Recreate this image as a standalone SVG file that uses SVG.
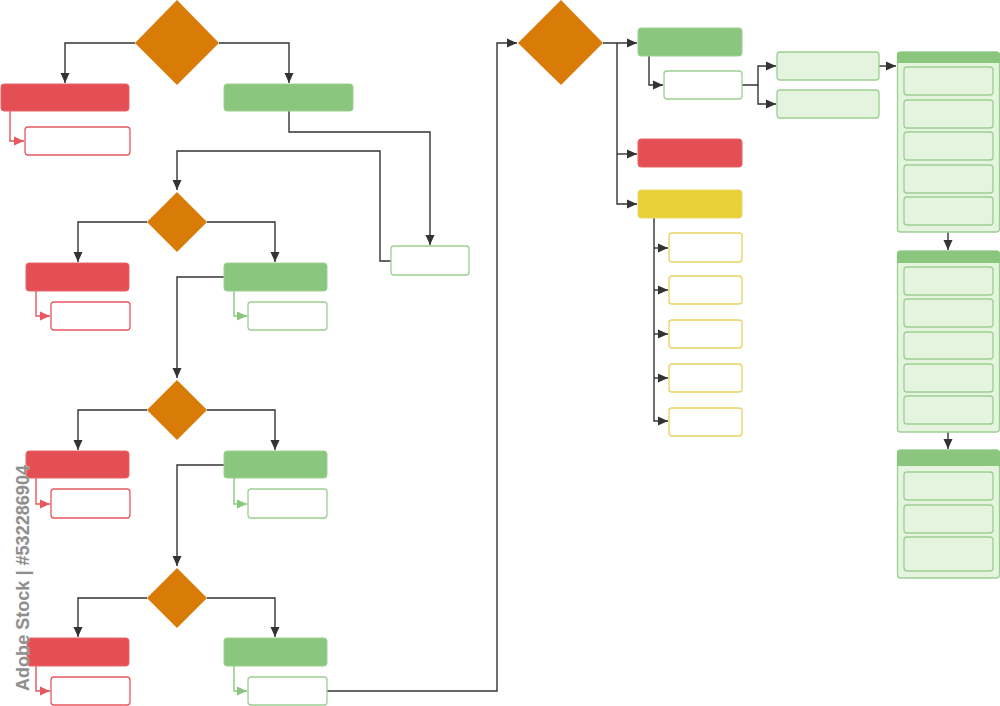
<svg xmlns="http://www.w3.org/2000/svg" width="1000" height="706" viewBox="0 0 1000 706">
<style>
.dia{fill:#d97b07}
.red{fill:#e34f55;stroke:#e8646a;stroke-width:1}
.grn{fill:#8bc67f;stroke:#9cd090;stroke-width:1}
.yel{fill:#e9cf38;stroke:#ecd56a;stroke-width:1}
.ored{fill:#fff;stroke:#e6585e;stroke-width:1.3}
.ogrn{fill:#fff;stroke:#9ccf91;stroke-width:1.3}
.oyel{fill:#fff;stroke:#ead260;stroke-width:1.3}
.lgrn{fill:#e4f4de;stroke:#9ccf91;stroke-width:1.3}
.phead{fill:#8bc67f}
.c{fill:none;stroke:#333;stroke-width:1.4}
.cr{fill:none;stroke:#e6585e;stroke-width:1.4}
.cg{fill:none;stroke:#8bc67f;stroke-width:1.4}
.wm{font-family:"Liberation Sans",Arial,sans-serif;font-size:18px;font-weight:bold;fill:#8f8f8f;stroke:#f2f2f2;stroke-width:0.6;paint-order:stroke}
</style>
<defs>
<marker id="ad" markerWidth="11" markerHeight="11" refX="10" refY="5.5" orient="auto" markerUnits="userSpaceOnUse"><path d="M0,1 L10,5.5 L0,10 Z" fill="#333"/></marker>
<marker id="ar" markerWidth="11" markerHeight="11" refX="10" refY="5.5" orient="auto" markerUnits="userSpaceOnUse"><path d="M0,1 L10,5.5 L0,10 Z" fill="#e6585e"/></marker>
<marker id="ag" markerWidth="11" markerHeight="11" refX="10" refY="5.5" orient="auto" markerUnits="userSpaceOnUse"><path d="M0,1 L10,5.5 L0,10 Z" fill="#8bc67f"/></marker>
</defs>

<g id="connectors">
<path class="c" d="M135,43 H65 V83" marker-end="url(#ad)"/>
<path class="c" d="M219,43 H289 V83" marker-end="url(#ad)"/>
<path class="cr" d="M10,111 V141 H24" marker-end="url(#ar)"/>
<path class="c" d="M289,111 V132 H430 V245" marker-end="url(#ad)"/>
<path class="c" d="M391,261 H380 V151 H177 V190" marker-end="url(#ad)"/>
<path class="c" d="M147,222 H78 V262" marker-end="url(#ad)"/>
<path class="c" d="M207,222 H275 V262" marker-end="url(#ad)"/>
<path class="cr" d="M36,291 V316 H50" marker-end="url(#ar)"/>
<path class="cg" d="M234,291 V316 H247" marker-end="url(#ag)"/>
<path class="c" d="M224,277 H177 V378" marker-end="url(#ad)"/>
<path class="c" d="M147,410 H78 V450" marker-end="url(#ad)"/>
<path class="c" d="M207,410 H275 V450" marker-end="url(#ad)"/>
<path class="cr" d="M36,478 V504 H50" marker-end="url(#ar)"/>
<path class="cg" d="M234,478 V504 H247" marker-end="url(#ag)"/>
<path class="c" d="M224,465 H177 V566" marker-end="url(#ad)"/>
<path class="c" d="M147,598 H78 V637" marker-end="url(#ad)"/>
<path class="c" d="M207,598 H275 V637" marker-end="url(#ad)"/>
<path class="cr" d="M36,666 V691 H50" marker-end="url(#ar)"/>
<path class="cg" d="M234,666 V691 H247" marker-end="url(#ag)"/>
<path class="c" d="M327,691 H497 V43 H517" marker-end="url(#ad)"/>
<path class="c" d="M603,43 H637" marker-end="url(#ad)"/>
<path class="c" d="M617,43 V204 H637" marker-end="url(#ad)"/>
<path class="c" d="M617,154 H637" marker-end="url(#ad)"/>
<path class="c" d="M649,56 V85 H663" marker-end="url(#ad)"/>
<path class="c" d="M742,85 H758 V66 H776" marker-end="url(#ad)"/>
<path class="c" d="M758,85 V104 H776" marker-end="url(#ad)"/>
<path class="c" d="M879,66 H896" marker-end="url(#ad)"/>
<path class="c" d="M654,218 V421 H668" marker-end="url(#ad)"/>
<path class="c" d="M654,248 H668" marker-end="url(#ad)"/>
<path class="c" d="M654,290 H668" marker-end="url(#ad)"/>
<path class="c" d="M654,334 H668" marker-end="url(#ad)"/>
<path class="c" d="M654,378 H668" marker-end="url(#ad)"/>
<path class="c" d="M948,232 V250" marker-end="url(#ad)"/>
<path class="c" d="M948,432 V449" marker-end="url(#ad)"/>
</g>

<g id="d1"><polygon class="dia" points="177,0 219,43 177,85 135,43"/></g>
<g id="r1"><rect class="red" x="1" y="84" width="128" height="27" rx="3"/></g>
<g id="r1o"><rect class="ored" x="25" y="127" width="105" height="28" rx="3"/></g>
<g id="g1"><rect class="grn" x="224" y="84" width="129" height="27" rx="3"/></g>
<g id="g1o"><rect class="ogrn" x="391" y="246" width="78" height="29" rx="3"/></g>

<g id="d2"><polygon class="dia" points="177,192 207,222 177,252 147,222"/></g>
<g id="r2"><rect class="red" x="26" y="263" width="103" height="28" rx="3"/></g>
<g id="r2o"><rect class="ored" x="51" y="302" width="79" height="28" rx="3"/></g>
<g id="g2"><rect class="grn" x="224" y="263" width="103" height="28" rx="3"/></g>
<g id="g2o"><rect class="ogrn" x="248" y="302" width="79" height="28" rx="3"/></g>

<g id="d3"><polygon class="dia" points="177,380 207,410 177,440 147,410"/></g>
<g id="r3"><rect class="red" x="26" y="451" width="103" height="27" rx="3"/></g>
<g id="r3o"><rect class="ored" x="51" y="489" width="79" height="29" rx="3"/></g>
<g id="g3"><rect class="grn" x="224" y="451" width="103" height="27" rx="3"/></g>
<g id="g3o"><rect class="ogrn" x="248" y="489" width="79" height="29" rx="3"/></g>

<g id="d4"><polygon class="dia" points="177,568 207,598 177,628 147,598"/></g>
<g id="r4"><rect class="red" x="27" y="638" width="102" height="28" rx="3"/></g>
<g id="r4o"><rect class="ored" x="51" y="677" width="79" height="28" rx="3"/></g>
<g id="g4"><rect class="grn" x="224" y="638" width="103" height="28" rx="3"/></g>
<g id="g4o"><rect class="ogrn" x="248" y="677" width="79" height="28" rx="3"/></g>

<g id="d5"><polygon class="dia" points="561,0 603,43 561,85 518,43"/></g>
<g id="g5"><rect class="grn" x="638" y="28" width="104" height="28" rx="3"/></g>
<g id="g5o"><rect class="ogrn" x="664" y="71" width="78" height="28" rx="3"/></g>
<g id="lg1"><rect class="lgrn" x="777" y="52" width="102" height="28" rx="3"/></g>
<g id="lg2"><rect class="lgrn" x="777" y="90" width="102" height="28" rx="3"/></g>
<g id="r5"><rect class="red" x="638" y="139" width="104" height="28" rx="3"/></g>
<g id="y5"><rect class="yel" x="638" y="190" width="104" height="28" rx="3"/></g>
<g id="y5a"><rect class="oyel" x="669" y="233" width="73" height="29" rx="3"/></g>
<g id="y5b"><rect class="oyel" x="669" y="276" width="73" height="28" rx="3"/></g>
<g id="y5c"><rect class="oyel" x="669" y="320" width="73" height="28" rx="3"/></g>
<g id="y5d"><rect class="oyel" x="669" y="364" width="73" height="28" rx="3"/></g>
<g id="y5e"><rect class="oyel" x="669" y="408" width="73" height="28" rx="3"/></g>

<g id="panel1">
<rect class="lgrn" x="897.5" y="52" width="102" height="180" rx="3"/>
<path class="phead" d="M897,55 a3,3 0 0 1 3,-3 H997 a3,3 0 0 1 3,3 V63 H897 Z"/>
<rect class="lgrn" x="904" y="67" width="89" height="28" rx="3"/>
<rect class="lgrn" x="904" y="100" width="89" height="28" rx="3"/>
<rect class="lgrn" x="904" y="132" width="89" height="28" rx="3"/>
<rect class="lgrn" x="904" y="165" width="89" height="28" rx="3"/>
<rect class="lgrn" x="904" y="197" width="89" height="28" rx="3"/>
</g>
<g id="panel2">
<rect class="lgrn" x="897.5" y="251" width="102" height="181" rx="3"/>
<path class="phead" d="M897,254 a3,3 0 0 1 3,-3 H997 a3,3 0 0 1 3,3 V263 H897 Z"/>
<rect class="lgrn" x="904" y="267" width="89" height="28" rx="3"/>
<rect class="lgrn" x="904" y="299" width="89" height="28" rx="3"/>
<rect class="lgrn" x="904" y="332" width="89" height="27" rx="3"/>
<rect class="lgrn" x="904" y="364" width="89" height="28" rx="3"/>
<rect class="lgrn" x="904" y="396" width="89" height="28" rx="3"/>
</g>
<g id="panel3">
<rect class="lgrn" x="897.5" y="450" width="102" height="128" rx="3"/>
<path class="phead" d="M897,453 a3,3 0 0 1 3,-3 H997 a3,3 0 0 1 3,3 V466 H897 Z"/>
<rect class="lgrn" x="904" y="472" width="89" height="28" rx="3"/>
<rect class="lgrn" x="904" y="505" width="89" height="28" rx="3"/>
<rect class="lgrn" x="904" y="537" width="89" height="34" rx="3"/>
</g>

<text class="wm" transform="translate(29,691) rotate(-90)" textLength="226" lengthAdjust="spacingAndGlyphs">Adobe Stock | #532286904</text>
</svg>
